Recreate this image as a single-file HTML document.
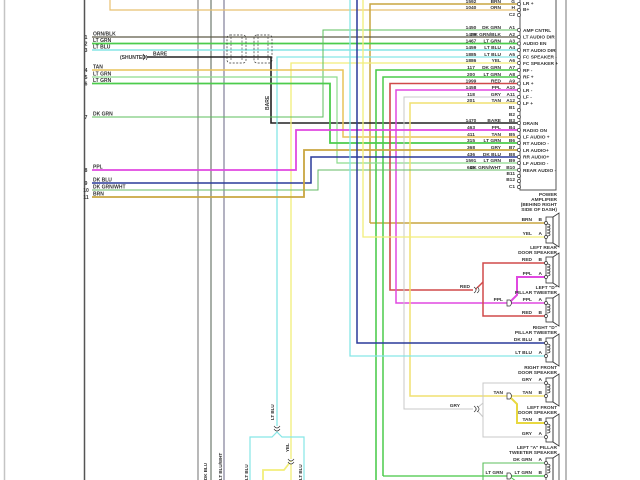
<!DOCTYPE html>
<html><head><meta charset="utf-8">
<style>
html,body{margin:0;padding:0;background:#fff;}
svg{display:block;}
text{font-family:"Liberation Sans",sans-serif;font-weight:bold;fill:#333;}
</style></head>
<body>
<svg width="640" height="480" viewBox="0 0 640 480" xmlns="http://www.w3.org/2000/svg">
<rect width="640" height="480" fill="#fff"/>
<g fill="none" stroke-linejoin="miter">
<!-- borders / verticals -->
<line x1="4.5" y1="0" x2="4.5" y2="480" stroke="#c4c4c4" stroke-width="1.5"/>
<line x1="84.5" y1="0" x2="84.5" y2="480" stroke="#555" stroke-width="1.5"/>
<line x1="198" y1="0" x2="198" y2="480" stroke="#8a8a8a" stroke-width="1.2"/>
<line x1="211" y1="0" x2="211" y2="480" stroke="#6e7a6e" stroke-width="1.2"/>
<line x1="224" y1="0" x2="224" y2="480" stroke="#8a88a0" stroke-width="1.3"/>
<line x1="566" y1="0" x2="566" y2="480" stroke="#777" stroke-width="1"/>

<!-- top box / B+ -->
<polyline points="110,0 110,10 519,10" stroke="#e8c070" stroke-width="1.2"/>
<polyline points="370,223 370,4 519,4" stroke="#c9a640" stroke-width="1.5"/>
<line x1="370" y1="223" x2="545" y2="223" stroke="#c9a640" stroke-width="1.5"/>

<!-- wires from left -->
<line x1="92" y1="37" x2="519" y2="37" stroke="#5d5a48" stroke-width="1.2"/>
<line x1="92" y1="43.5" x2="519" y2="43.5" stroke="#4ccc4c" stroke-width="1.8"/>
<line x1="92" y1="50" x2="519" y2="50" stroke="#86e6e6" stroke-width="1.5"/>
<polyline points="147,57 271,57 271,123 519,123" stroke="#222" stroke-width="1.6"/>
<polyline points="277,428 277,57 519,57" stroke="#86e6e6" stroke-width="1.3"/>
<polyline points="291,480 291,63 519,63" stroke="#f2ee7a" stroke-width="1.3"/>
<polyline points="92,117 323,117 323,30 519,30" stroke="#5cbf5c" stroke-width="1"/>
<polyline points="92,70 343,70 343,137 519,137" stroke="#e8c458" stroke-width="1.5"/>
<polyline points="376,480 376,70 519,70" stroke="#44c844" stroke-width="1.5"/>
<polyline points="92,77 337,77 337,163 519,163" stroke="#8edc8e" stroke-width="1.2"/>
<polyline points="383,476 383,77 519,77" stroke="#4ccc4c" stroke-width="1.5"/>
<polyline points="92,83.5 330,83.5 330,143 519,143" stroke="#4ccc4c" stroke-width="1.8"/>
<polyline points="473,290 390,290 390,83.5 519,83.5" stroke="#d04a4a" stroke-width="1.6"/>
<polyline points="545,303 396,303 396,90 519,90" stroke="#e048e0" stroke-width="1.5"/>
<polyline points="473,409 404,409 404,97 519,97" stroke="#c8c8c8" stroke-width="1"/>
<polyline points="545,396 410,396 410,103 519,103" stroke="#f0e070" stroke-width="1.5"/>
<polyline points="92,170 296,170 296,130 519,130" stroke="#e048e0" stroke-width="1.8"/>
<polyline points="92,183 311,183 311,157 519,157" stroke="#2a3a9a" stroke-width="1.5"/>
<polyline points="92,190 318,190 318,170 519,170" stroke="#66bb66" stroke-width="1"/>
<polyline points="92,197 304,197 304,150 519,150" stroke="#c9a640" stroke-width="1.8"/>
<polyline points="350,0 350,356 545,356" stroke="#86e6e6" stroke-width="1.3"/>
<polyline points="357,0 357,343 545,343" stroke="#2a3a9a" stroke-width="1.5"/>
<polyline points="363,0 363,237 545,237" stroke="#f2ee7a" stroke-width="1.3"/>
<line x1="383" y1="476" x2="545" y2="476" stroke="#44c844" stroke-width="1.3"/>

<!-- red junction -->
<polyline points="545,263 483,263 483,316 545,316" stroke="#d04a4a" stroke-width="1.5"/>
<line x1="475" y1="290" x2="483" y2="282" stroke="#d04a4a" stroke-width="1.5"/>
<!-- magenta junction -->
<polyline points="509,303 517,295 517,277 545,277" stroke="#e048e0" stroke-width="2"/>
<!-- gray junction -->
<polyline points="545,383 483,383 483,437 545,437" stroke="#c8c8c8" stroke-width="1"/>
<polyline points="483,403 476,409 483,417" stroke="#c8c8c8" stroke-width="1"/>
<!-- tan junction -->
<polyline points="509,396 517,404 517,423 545,423" stroke="#e8d840" stroke-width="2"/>
<!-- green bottom -->
<polyline points="483,480 483,463 545,463" stroke="#5cbf5c" stroke-width="1.1"/>
<line x1="509" y1="476" x2="520" y2="484" stroke="#44c844" stroke-width="1"/>

<!-- bottom middle cyan branch -->
<polyline points="250,480 250,437 272,437 277,432 282,437 304,437 304,480" stroke="#86e6e6" stroke-width="1.2"/>
<polyline points="291,461 284,470 263,470 263,480" stroke="#f2ee7a" stroke-width="1.8"/>

<!-- shields -->
<rect x="227" y="35" width="19" height="28" rx="3" stroke="#333" stroke-width="0.7" stroke-dasharray="2,1.5"/>
<line x1="231" y1="37" x2="231" y2="61" stroke="#333" stroke-width="0.6" stroke-dasharray="2,1.5"/>
<line x1="242" y1="37" x2="242" y2="61" stroke="#333" stroke-width="0.6" stroke-dasharray="2,1.5"/>
<rect x="254" y="35" width="18" height="28" rx="3" stroke="#333" stroke-width="0.7" stroke-dasharray="2,1.5"/>
<line x1="258" y1="37" x2="258" y2="61" stroke="#333" stroke-width="0.6" stroke-dasharray="2,1.5"/>
<line x1="268" y1="37" x2="268" y2="61" stroke="#333" stroke-width="0.6" stroke-dasharray="2,1.5"/>
<path d="M143,54 q3,3 0,6" stroke="#333" stroke-width="0.8"/>

<!-- connector box -->
<polyline points="520,0 520,190 556,190 556,0" stroke="#555" stroke-width="1"/>
</g>

<!-- connector pin bumps -->
<g fill="#fff" stroke="#444" stroke-width="0.7">
<circle cx="519" cy="4" r="1.6"/><circle cx="519" cy="10" r="1.6"/><circle cx="519" cy="15" r="1.6"/>
<circle cx="519" cy="30" r="1.6"/><circle cx="519" cy="37" r="1.6"/><circle cx="519" cy="43.5" r="1.6"/>
<circle cx="519" cy="50" r="1.6"/><circle cx="519" cy="57" r="1.6"/><circle cx="519" cy="63" r="1.6"/>
<circle cx="519" cy="70" r="1.6"/><circle cx="519" cy="77" r="1.6"/><circle cx="519" cy="83.5" r="1.6"/>
<circle cx="519" cy="90" r="1.6"/><circle cx="519" cy="97" r="1.6"/><circle cx="519" cy="103" r="1.6"/>
<circle cx="519" cy="110" r="1.6"/><circle cx="519" cy="117" r="1.6"/><circle cx="519" cy="123" r="1.6"/>
<circle cx="519" cy="130" r="1.6"/><circle cx="519" cy="137" r="1.6"/><circle cx="519" cy="143" r="1.6"/>
<circle cx="519" cy="150" r="1.6"/><circle cx="519" cy="157" r="1.6"/><circle cx="519" cy="163" r="1.6"/>
<circle cx="519" cy="170" r="1.6"/><circle cx="519" cy="176" r="1.6"/><circle cx="519" cy="181" r="1.6"/>
<circle cx="519" cy="187" r="1.6"/>
</g>

<!-- junction marks -->
<g fill="#fff" stroke="#333" stroke-width="0.7">
<path d="M474,287 q4,3 0,6 M477,287 q4,3 0,6"/>
<path d="M507,300 l3,0 q3,3 0,6 l-3,0 z"/>
<path d="M474,406 q4,3 0,6 M477,406 q4,3 0,6"/>
<path d="M507,393 l3,0 q3,3 0,6 l-3,0 z"/>
<path d="M507,473 l3,0 q3,3 0,6 l-3,0 z"/>
<path d="M274,426 q3,4 6,0 M274,429 q3,4 6,0"/>
<path d="M288,459 q3,4 6,0 M288,462 q3,4 6,0"/>
</g>

<!-- speakers -->
<g fill="none" stroke="#333" stroke-width="0.8">
<!-- 1 -->
<rect x="546" y="217" width="7" height="26"/><polygon points="553,217 559,213 559,247 553,243"/>
<path d="M547,224 c4,0 4,3 0,3 c4,0 4,3 0,3 c4,0 4,3 0,3 c4,0 4,3 0,3"/>
<!-- 2 -->
<rect x="546" y="257" width="7" height="26"/><polygon points="553,257 559,253 559,287 553,283"/>
<path d="M547,264 c4,0 4,3 0,3 c4,0 4,3 0,3 c4,0 4,3 0,3 c4,0 4,3 0,3"/>
<!-- 3 -->
<rect x="546" y="298" width="7" height="24"/><polygon points="553,298 559,294 559,326 553,322"/>
<path d="M547,304 c4,0 4,3 0,3 c4,0 4,3 0,3 c4,0 4,3 0,3"/>
<!-- 4 -->
<rect x="546" y="338" width="7" height="24"/><polygon points="553,338 559,334 559,366 553,362"/>
<path d="M547,344 c4,0 4,3 0,3 c4,0 4,3 0,3 c4,0 4,3 0,3"/>
<!-- 5 -->
<rect x="546" y="378" width="7" height="24"/><polygon points="553,378 559,374 559,406 553,402"/>
<path d="M547,384 c4,0 4,3 0,3 c4,0 4,3 0,3 c4,0 4,3 0,3"/>
<!-- 6 -->
<rect x="546" y="418" width="7" height="24"/><polygon points="553,418 559,414 559,446 553,442"/>
<path d="M547,424 c4,0 4,3 0,3 c4,0 4,3 0,3 c4,0 4,3 0,3"/>
<!-- 7 -->
<rect x="546" y="458" width="7" height="24"/><polygon points="553,458 559,454 559,486 553,482"/>
<path d="M547,464 c4,0 4,3 0,3 c4,0 4,3 0,3 c4,0 4,3 0,3"/>
</g>
<g fill="#fff" stroke="#333" stroke-width="0.7">
<circle cx="546" cy="223" r="1.5"/><circle cx="546" cy="237" r="1.5"/>
<circle cx="546" cy="263" r="1.5"/><circle cx="546" cy="277" r="1.5"/>
<circle cx="546" cy="303" r="1.5"/><circle cx="546" cy="316" r="1.5"/>
<circle cx="546" cy="343" r="1.5"/><circle cx="546" cy="356" r="1.5"/>
<circle cx="546" cy="383" r="1.5"/><circle cx="546" cy="396" r="1.5"/>
<circle cx="546" cy="423" r="1.5"/><circle cx="546" cy="437" r="1.5"/>
<circle cx="546" cy="463" r="1.5"/><circle cx="546" cy="476" r="1.5"/>
</g>

<!-- left wire labels -->
<g font-size="5">
<text x="86" y="39" text-anchor="middle">1</text>
<text x="86" y="45.5" text-anchor="middle">2</text>
<text x="86" y="52" text-anchor="middle">3</text>
<text x="86" y="72" text-anchor="middle">4</text>
<text x="86" y="79" text-anchor="middle">5</text>
<text x="86" y="85.5" text-anchor="middle">6</text>
<text x="86" y="119" text-anchor="middle">7</text>
<text x="86" y="172" text-anchor="middle">8</text>
<text x="86" y="185" text-anchor="middle">9</text>
<text x="86" y="192" text-anchor="middle">10</text>
<text x="86" y="199" text-anchor="middle">11</text>
<text x="93" y="35.5">ORN/BLK</text>
<text x="93" y="42">LT GRN</text>
<text x="93" y="48.5">LT BLU</text>
<text x="93" y="68.5">TAN</text>
<text x="93" y="75.5">LT GRN</text>
<text x="93" y="82">LT GRN</text>
<text x="93" y="115.5">DK GRN</text>
<text x="93" y="168.5">PPL</text>
<text x="93" y="181.5">DK BLU</text>
<text x="93" y="188.5">DK GRN/WHT</text>
<text x="93" y="195.5">BRN</text>
<text x="120" y="59">(SHUNTED)</text>
<text x="153" y="55.5" text-decoration="underline">BARE</text>
<text transform="translate(269,110) rotate(-90)">BARE</text>
</g>

<!-- connector rows -->
<g font-size="4.8">
<g text-anchor="middle">
<text x="471" y="3">1592</text><text x="471" y="9">1040</text>
<text x="471" y="29">1450</text><text x="471" y="36">1429</text><text x="471" y="42.5">1467</text>
<text x="471" y="49">1459</text><text x="471" y="56">1885</text><text x="471" y="62">1886</text>
<text x="471" y="69">117</text><text x="471" y="76">200</text><text x="471" y="82.5">1999</text>
<text x="471" y="89">1458</text><text x="471" y="96">118</text><text x="471" y="102">201</text>
<text x="471" y="122">1470</text><text x="471" y="129">463</text><text x="471" y="136">411</text>
<text x="471" y="142">315</text><text x="471" y="149">368</text><text x="471" y="156">436</text>
<text x="471" y="162">1591</text><text x="471" y="169">646</text>
</g>
<g text-anchor="end">
<text x="501" y="3">BRN</text><text x="501" y="9">ORN</text>
<text x="501" y="29">DK GRN</text><text x="501" y="36">DK GRN/BLK</text><text x="501" y="42.5">LT GRN</text>
<text x="501" y="49">LT BLU</text><text x="501" y="56">LT BLU</text><text x="501" y="62">YEL</text>
<text x="501" y="69">DK GRN</text><text x="501" y="76">LT GRN</text><text x="501" y="82.5">RED</text>
<text x="501" y="89">PPL</text><text x="501" y="96">GRY</text><text x="501" y="102">TAN</text>
<text x="501" y="122">BARE</text><text x="501" y="129">PPL</text><text x="501" y="136">TAN</text>
<text x="501" y="142">LT GRN</text><text x="501" y="149">GRY</text><text x="501" y="156">DK BLU</text>
<text x="501" y="162">LT GRN</text><text x="501" y="169">DK GRN/WHT</text>
<text x="515" y="3">G</text><text x="515" y="9">H</text><text x="515" y="16">C2</text>
<text x="515" y="29">A1</text><text x="515" y="36">A2</text><text x="515" y="42.5">A3</text>
<text x="515" y="49">A4</text><text x="515" y="56">A5</text><text x="515" y="62">A6</text>
<text x="515" y="69">A7</text><text x="515" y="76">A8</text><text x="515" y="82.5">A9</text>
<text x="515" y="89">A10</text><text x="515" y="96">A11</text><text x="515" y="102">A12</text>
<text x="515" y="109">B1</text><text x="515" y="116">B2</text><text x="515" y="122">B3</text>
<text x="515" y="129">B4</text><text x="515" y="136">B5</text><text x="515" y="142">B6</text>
<text x="515" y="149">B7</text><text x="515" y="156">B8</text><text x="515" y="162">B9</text>
<text x="515" y="169">B10</text><text x="515" y="175">B11</text><text x="515" y="181">B12</text>
<text x="515" y="188">C1</text>
</g>
<text x="523" y="5">LR +</text><text x="523" y="11">B+</text>
<text x="523" y="32">AMP CNTRL</text><text x="523" y="38.5">LT AUDIO DIR</text><text x="523" y="45">AUDIO EN</text>
<text x="523" y="52">RT AUDIO DIR</text><text x="523" y="58.5">FC SPEAKER -</text><text x="523" y="65">FC SPEAKER +</text>
<text x="523" y="72">RF -</text><text x="523" y="78.5">RF +</text><text x="523" y="85">LR +</text>
<text x="523" y="92">LR -</text><text x="523" y="98.5">LF -</text><text x="523" y="105">LF +</text>
<text x="523" y="125">DRAIN</text><text x="523" y="132">RADIO ON</text><text x="523" y="138.5">LF AUDIO +</text>
<text x="523" y="145">RT AUDIO -</text><text x="523" y="152">LR AUDIO+</text><text x="523" y="158.5">RR AUDIO+</text>
<text x="523" y="165">LF AUDIO -</text><text x="523" y="172">REAR AUDIO -</text>
</g>

<!-- amp + speaker labels -->
<g font-size="4.8" text-anchor="end">
<text x="557" y="196">POWER</text>
<text x="557" y="201">AMPLIFIER</text>
<text x="557" y="206">(BEHIND RIGHT</text>
<text x="557" y="211">SIDE OF DASH)</text>
<text x="532" y="221">BRN</text><text x="542" y="221">B</text>
<text x="532" y="235">YEL</text><text x="542" y="235">A</text>
<text x="557" y="249">LEFT REAR</text><text x="557" y="254">DOOR SPEAKER</text>
<text x="532" y="261">RED</text><text x="542" y="261">B</text>
<text x="532" y="275">PPL</text><text x="542" y="275">A</text>
<text x="557" y="289">LEFT "D"</text><text x="557" y="294">PILLAR TWEETER</text>
<text x="532" y="301">PPL</text><text x="542" y="301">A</text>
<text x="532" y="314">RED</text><text x="542" y="314">B</text>
<text x="557" y="329">RIGHT "D"</text><text x="557" y="334">PILLAR TWEETER</text>
<text x="532" y="341">DK BLU</text><text x="542" y="341">B</text>
<text x="532" y="354">LT BLU</text><text x="542" y="354">A</text>
<text x="557" y="369">RIGHT FRONT</text><text x="557" y="374">DOOR SPEAKER</text>
<text x="532" y="381">GRY</text><text x="542" y="381">A</text>
<text x="532" y="394">TAN</text><text x="542" y="394">B</text>
<text x="557" y="409">LEFT FRONT</text><text x="557" y="414">DOOR SPEAKER</text>
<text x="532" y="421">TAN</text><text x="542" y="421">B</text>
<text x="532" y="435">GRY</text><text x="542" y="435">A</text>
<text x="557" y="449">LEFT "A" PILLAR</text><text x="557" y="454">TWEETER SPEAKER</text>
<text x="532" y="461">DK GRN</text><text x="542" y="461">A</text>
<text x="532" y="474">LT GRN</text><text x="542" y="474">B</text>
<text x="470" y="288">RED</text>
<text x="503" y="301">PPL</text>
<text x="460" y="407">GRY</text>
<text x="503" y="394">TAN</text>
<text x="503" y="474">LT GRN</text>
</g>
<g font-size="4.5">
<text transform="translate(274,420) rotate(-90)">LT BLU</text>
<text transform="translate(289,452) rotate(-90)">YEL</text>
<text transform="translate(248,480) rotate(-90)">LT BLU</text>
<text transform="translate(302,480) rotate(-90)">LT BLU</text>
<text transform="translate(207,480) rotate(-90)">DK BLU</text>
<text transform="translate(222,480) rotate(-90)">LT BLU/WHT</text>
</g>
</svg>
</body></html>
